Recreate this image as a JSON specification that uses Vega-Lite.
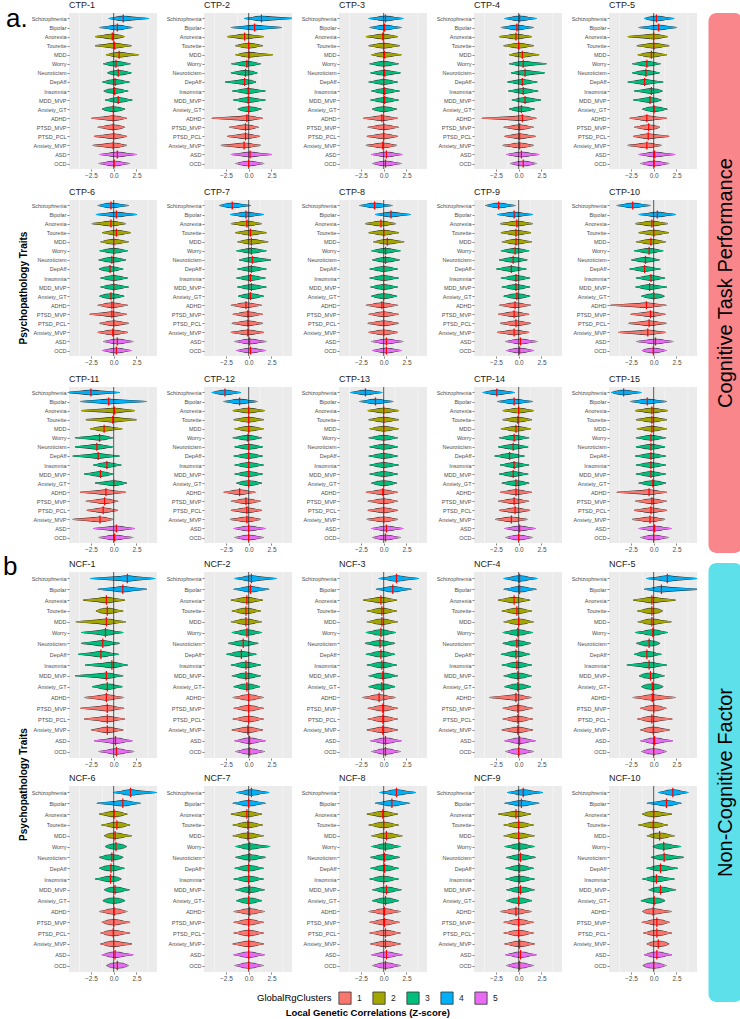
{
"$schema": "https://vega.github.io/schema/vega-lite/v6.json",
"background": "white",
"padding": {"left": 3, "top": 0, "right": 0, "bottom": 0},
"datasets": {
"cl": [
{"t":"Schizophrenia","c":"4"},{"t":"Bipolar","c":"4"},{"t":"Anorexia","c":"2"},{"t":"Tourette","c":"2"},{"t":"MDD","c":"2"},{"t":"Worry","c":"3"},{"t":"Neuroticism","c":"3"},{"t":"DepAff","c":"3"},{"t":"Insomnia","c":"3"},{"t":"MDD_MVP","c":"3"},{"t":"Anxiety_GT","c":"3"},{"t":"ADHD","c":"1"},{"t":"PTSD_MVP","c":"1"},{"t":"PTSD_PCL","c":"1"},{"t":"Anxiety_MVP","c":"1"},{"t":"ASD","c":"5"},{"t":"OCD","c":"5"}
],
"ctp": [
{"p":"CTP-1","t":"Schizophrenia","m":1.05,"lo":-0.5,"hi":3.8},
{"p":"CTP-1","t":"Bipolar","m":0.4,"lo":-1.5,"hi":2.0},
{"p":"CTP-1","t":"Anorexia","m":-0.15,"lo":-2.0,"hi":1.15},
{"p":"CTP-1","t":"Tourette","m":0.1,"lo":-2.0,"hi":1.9},
{"p":"CTP-1","t":"MDD","m":0.6,"lo":-0.8,"hi":2.7},
{"p":"CTP-1","t":"Worry","m":0.25,"lo":-1.1,"hi":1.8},
{"p":"CTP-1","t":"Neuroticism","m":0.5,"lo":-0.5,"hi":1.9},
{"p":"CTP-1","t":"DepAff","m":0.15,"lo":-1.2,"hi":1.7},
{"p":"CTP-1","t":"Insomnia","m":0.1,"lo":-0.9,"hi":1.55},
{"p":"CTP-1","t":"MDD_MVP","m":0.5,"lo":-0.9,"hi":2.0},
{"p":"CTP-1","t":"Anxiety_GT","m":-0.05,"lo":-1.2,"hi":1.2},
{"p":"CTP-1","t":"ADHD","m":-0.05,"lo":-2.4,"hi":1.4},
{"p":"CTP-1","t":"PTSD_MVP","m":-0.05,"lo":-1.7,"hi":1.2},
{"p":"CTP-1","t":"PTSD_PCL","m":0.0,"lo":-2.1,"hi":1.4},
{"p":"CTP-1","t":"Anxiety_MVP","m":-0.05,"lo":-2.25,"hi":1.4},
{"p":"CTP-1","t":"ASD","m":0.4,"lo":-1.5,"hi":2.45},
{"p":"CTP-1","t":"OCD","m":0.05,"lo":-1.6,"hi":1.7},
{"p":"CTP-2","t":"Schizophrenia","m":1.4,"lo":-0.45,"hi":4.9},
{"p":"CTP-2","t":"Bipolar","m":0.65,"lo":-1.9,"hi":3.6},
{"p":"CTP-2","t":"Anorexia","m":-0.45,"lo":-2.3,"hi":1.6},
{"p":"CTP-2","t":"Tourette","m":0.0,"lo":-1.4,"hi":1.5},
{"p":"CTP-2","t":"MDD","m":0.05,"lo":-1.4,"hi":2.6},
{"p":"CTP-2","t":"Worry","m":-0.2,"lo":-1.85,"hi":1.3},
{"p":"CTP-2","t":"Neuroticism","m":-0.35,"lo":-1.9,"hi":0.9},
{"p":"CTP-2","t":"DepAff","m":-0.45,"lo":-2.55,"hi":0.75},
{"p":"CTP-2","t":"Insomnia","m":-0.05,"lo":-1.75,"hi":1.8},
{"p":"CTP-2","t":"MDD_MVP","m":-0.05,"lo":-1.65,"hi":1.8},
{"p":"CTP-2","t":"Anxiety_GT","m":0.0,"lo":-1.1,"hi":1.35},
{"p":"CTP-2","t":"ADHD","m":-0.2,"lo":-4.0,"hi":1.5},
{"p":"CTP-2","t":"PTSD_MVP","m":-0.35,"lo":-2.1,"hi":1.05},
{"p":"CTP-2","t":"PTSD_PCL","m":-0.35,"lo":-2.3,"hi":1.2},
{"p":"CTP-2","t":"Anxiety_MVP","m":-0.5,"lo":-3.0,"hi":1.3},
{"p":"CTP-2","t":"ASD","m":0.15,"lo":-1.9,"hi":2.5},
{"p":"CTP-2","t":"OCD","m":0.0,"lo":-1.4,"hi":1.65},
{"p":"CTP-3","t":"Schizophrenia","m":0.2,"lo":-1.6,"hi":2.1},
{"p":"CTP-3","t":"Bipolar","m":0.1,"lo":-1.5,"hi":1.9},
{"p":"CTP-3","t":"Anorexia","m":-0.1,"lo":-1.9,"hi":1.5},
{"p":"CTP-3","t":"Tourette","m":0.0,"lo":-1.6,"hi":1.7},
{"p":"CTP-3","t":"MDD","m":0.1,"lo":-1.3,"hi":1.9},
{"p":"CTP-3","t":"Worry","m":0.0,"lo":-1.5,"hi":1.6},
{"p":"CTP-3","t":"Neuroticism","m":0.1,"lo":-1.4,"hi":1.8},
{"p":"CTP-3","t":"DepAff","m":0.0,"lo":-1.6,"hi":1.5},
{"p":"CTP-3","t":"Insomnia","m":0.1,"lo":-1.3,"hi":1.7},
{"p":"CTP-3","t":"MDD_MVP","m":0.1,"lo":-1.4,"hi":1.6},
{"p":"CTP-3","t":"Anxiety_GT","m":0.0,"lo":-1.2,"hi":1.4},
{"p":"CTP-3","t":"ADHD","m":-0.2,"lo":-2.2,"hi":1.5},
{"p":"CTP-3","t":"PTSD_MVP","m":0.0,"lo":-1.7,"hi":1.6},
{"p":"CTP-3","t":"PTSD_PCL","m":0.0,"lo":-1.8,"hi":1.5},
{"p":"CTP-3","t":"Anxiety_MVP","m":-0.1,"lo":-1.9,"hi":1.4},
{"p":"CTP-3","t":"ASD","m":0.3,"lo":-1.3,"hi":2.0},
{"p":"CTP-3","t":"OCD","m":0.2,"lo":-1.2,"hi":1.9},
{"p":"CTP-4","t":"Schizophrenia","m":0.1,"lo":-1.5,"hi":1.9},
{"p":"CTP-4","t":"Bipolar","m":-0.2,"lo":-1.9,"hi":1.6},
{"p":"CTP-4","t":"Anorexia","m":-0.3,"lo":-2.1,"hi":1.4},
{"p":"CTP-4","t":"Tourette","m":0.0,"lo":-1.6,"hi":1.6},
{"p":"CTP-4","t":"MDD","m":0.4,"lo":-1.0,"hi":2.2},
{"p":"CTP-4","t":"Worry","m":0.5,"lo":-1.0,"hi":3.0},
{"p":"CTP-4","t":"Neuroticism","m":0.7,"lo":-0.8,"hi":2.8},
{"p":"CTP-4","t":"DepAff","m":0.4,"lo":-1.2,"hi":2.0},
{"p":"CTP-4","t":"Insomnia","m":0.5,"lo":-1.1,"hi":2.1},
{"p":"CTP-4","t":"MDD_MVP","m":0.7,"lo":-0.7,"hi":2.4},
{"p":"CTP-4","t":"Anxiety_GT","m":0.3,"lo":-1.0,"hi":1.7},
{"p":"CTP-4","t":"ADHD","m":0.4,"lo":-4.0,"hi":1.9},
{"p":"CTP-4","t":"PTSD_MVP","m":0.1,"lo":-1.6,"hi":1.6},
{"p":"CTP-4","t":"PTSD_PCL","m":0.1,"lo":-1.5,"hi":1.8},
{"p":"CTP-4","t":"Anxiety_MVP","m":0.1,"lo":-1.7,"hi":1.6},
{"p":"CTP-4","t":"ASD","m":0.3,"lo":-1.3,"hi":2.2},
{"p":"CTP-4","t":"OCD","m":0.5,"lo":-0.9,"hi":1.9},
{"p":"CTP-5","t":"Schizophrenia","m":0.3,"lo":-1.0,"hi":2.2},
{"p":"CTP-5","t":"Bipolar","m":0.55,"lo":-1.6,"hi":2.5},
{"p":"CTP-5","t":"Anorexia","m":0.0,"lo":-2.8,"hi":1.5},
{"p":"CTP-5","t":"Tourette","m":0.0,"lo":-1.8,"hi":1.65},
{"p":"CTP-5","t":"MDD","m":-0.25,"lo":-1.7,"hi":1.4},
{"p":"CTP-5","t":"Worry","m":-0.75,"lo":-2.3,"hi":0.7},
{"p":"CTP-5","t":"Neuroticism","m":-0.85,"lo":-2.3,"hi":0.6},
{"p":"CTP-5","t":"DepAff","m":-1.0,"lo":-2.8,"hi":1.0},
{"p":"CTP-5","t":"Insomnia","m":-0.25,"lo":-2.1,"hi":0.9},
{"p":"CTP-5","t":"MDD_MVP","m":-0.4,"lo":-2.2,"hi":0.8},
{"p":"CTP-5","t":"Anxiety_GT","m":0.05,"lo":-1.2,"hi":1.45},
{"p":"CTP-5","t":"ADHD","m":-0.75,"lo":-2.6,"hi":1.4},
{"p":"CTP-5","t":"PTSD_MVP","m":-0.55,"lo":-2.1,"hi":0.6},
{"p":"CTP-5","t":"PTSD_PCL","m":-0.6,"lo":-2.2,"hi":1.65},
{"p":"CTP-5","t":"Anxiety_MVP","m":-0.75,"lo":-2.8,"hi":0.8},
{"p":"CTP-5","t":"ASD","m":0.1,"lo":-1.6,"hi":2.3},
{"p":"CTP-5","t":"OCD","m":0.05,"lo":-1.4,"hi":1.65},
{"p":"CTP-6","t":"Schizophrenia","m":-0.3,"lo":-1.7,"hi":1.6},
{"p":"CTP-6","t":"Bipolar","m":0.3,"lo":-1.9,"hi":2.5},
{"p":"CTP-6","t":"Anorexia","m":-0.3,"lo":-2.35,"hi":1.3},
{"p":"CTP-6","t":"Tourette","m":0.3,"lo":-1.2,"hi":1.8},
{"p":"CTP-6","t":"MDD","m":0.0,"lo":-1.4,"hi":1.6},
{"p":"CTP-6","t":"Worry","m":0.0,"lo":-1.5,"hi":1.5},
{"p":"CTP-6","t":"Neuroticism","m":-0.2,"lo":-1.6,"hi":1.3},
{"p":"CTP-6","t":"DepAff","m":-0.4,"lo":-1.5,"hi":1.0},
{"p":"CTP-6","t":"Insomnia","m":0.0,"lo":-1.4,"hi":1.5},
{"p":"CTP-6","t":"MDD_MVP","m":0.0,"lo":-1.4,"hi":1.6},
{"p":"CTP-6","t":"Anxiety_GT","m":-0.3,"lo":-1.5,"hi":1.1},
{"p":"CTP-6","t":"ADHD","m":-0.2,"lo":-1.7,"hi":1.5},
{"p":"CTP-6","t":"PTSD_MVP","m":-0.2,"lo":-2.6,"hi":1.4},
{"p":"CTP-6","t":"PTSD_PCL","m":0.0,"lo":-1.5,"hi":1.6},
{"p":"CTP-6","t":"Anxiety_MVP","m":-0.1,"lo":-1.7,"hi":1.5},
{"p":"CTP-6","t":"ASD","m":0.4,"lo":-1.1,"hi":2.1},
{"p":"CTP-6","t":"OCD","m":0.3,"lo":-1.2,"hi":1.9},
{"p":"CTP-7","t":"Schizophrenia","m":-1.8,"lo":-3.2,"hi":0.2},
{"p":"CTP-7","t":"Bipolar","m":-0.3,"lo":-2.0,"hi":1.6},
{"p":"CTP-7","t":"Anorexia","m":-0.2,"lo":-1.9,"hi":1.4},
{"p":"CTP-7","t":"Tourette","m":0.2,"lo":-1.4,"hi":1.9},
{"p":"CTP-7","t":"MDD","m":0.3,"lo":-1.2,"hi":2.1},
{"p":"CTP-7","t":"Worry","m":0.3,"lo":-1.3,"hi":1.9},
{"p":"CTP-7","t":"Neuroticism","m":0.4,"lo":-1.0,"hi":2.4},
{"p":"CTP-7","t":"DepAff","m":0.3,"lo":-1.2,"hi":1.9},
{"p":"CTP-7","t":"Insomnia","m":0.2,"lo":-1.3,"hi":1.8},
{"p":"CTP-7","t":"MDD_MVP","m":0.3,"lo":-1.2,"hi":1.9},
{"p":"CTP-7","t":"Anxiety_GT","m":0.2,"lo":-1.1,"hi":1.6},
{"p":"CTP-7","t":"ADHD","m":-0.3,"lo":-1.9,"hi":1.4},
{"p":"CTP-7","t":"PTSD_MVP","m":-0.1,"lo":-1.7,"hi":1.5},
{"p":"CTP-7","t":"PTSD_PCL","m":-0.1,"lo":-1.8,"hi":1.5},
{"p":"CTP-7","t":"Anxiety_MVP","m":-0.1,"lo":-1.9,"hi":1.6},
{"p":"CTP-7","t":"ASD","m":0.1,"lo":-1.5,"hi":1.9},
{"p":"CTP-7","t":"OCD","m":0.2,"lo":-1.3,"hi":1.8},
{"p":"CTP-8","t":"Schizophrenia","m":-1.0,"lo":-2.6,"hi":0.9},
{"p":"CTP-8","t":"Bipolar","m":0.8,"lo":-0.9,"hi":2.9},
{"p":"CTP-8","t":"Anorexia","m":-0.3,"lo":-2.0,"hi":1.3},
{"p":"CTP-8","t":"Tourette","m":0.0,"lo":-1.6,"hi":1.6},
{"p":"CTP-8","t":"MDD","m":0.4,"lo":-1.1,"hi":2.2},
{"p":"CTP-8","t":"Worry","m":0.2,"lo":-1.3,"hi":1.8},
{"p":"CTP-8","t":"Neuroticism","m":0.2,"lo":-1.2,"hi":1.7},
{"p":"CTP-8","t":"DepAff","m":0.0,"lo":-1.5,"hi":1.5},
{"p":"CTP-8","t":"Insomnia","m":0.0,"lo":-1.5,"hi":1.6},
{"p":"CTP-8","t":"MDD_MVP","m":0.0,"lo":-1.4,"hi":1.5},
{"p":"CTP-8","t":"Anxiety_GT","m":0.0,"lo":-1.3,"hi":1.4},
{"p":"CTP-8","t":"ADHD","m":-0.2,"lo":-1.9,"hi":1.5},
{"p":"CTP-8","t":"PTSD_MVP","m":0.0,"lo":-1.6,"hi":1.6},
{"p":"CTP-8","t":"PTSD_PCL","m":0.0,"lo":-1.7,"hi":1.6},
{"p":"CTP-8","t":"Anxiety_MVP","m":0.0,"lo":-1.6,"hi":1.5},
{"p":"CTP-8","t":"ASD","m":0.3,"lo":-1.3,"hi":2.1},
{"p":"CTP-8","t":"OCD","m":0.3,"lo":-1.2,"hi":1.9},
{"p":"CTP-9","t":"Schizophrenia","m":-2.2,"lo":-3.6,"hi":-0.4},
{"p":"CTP-9","t":"Bipolar","m":-0.5,"lo":-2.3,"hi":1.5},
{"p":"CTP-9","t":"Anorexia","m":-0.2,"lo":-2.0,"hi":1.5},
{"p":"CTP-9","t":"Tourette","m":-0.3,"lo":-1.9,"hi":1.3},
{"p":"CTP-9","t":"MDD","m":-0.3,"lo":-1.8,"hi":1.4},
{"p":"CTP-9","t":"Worry","m":-0.4,"lo":-1.9,"hi":1.1},
{"p":"CTP-9","t":"Neuroticism","m":-0.6,"lo":-2.1,"hi":0.9},
{"p":"CTP-9","t":"DepAff","m":-0.8,"lo":-2.4,"hi":0.8},
{"p":"CTP-9","t":"Insomnia","m":-0.3,"lo":-1.9,"hi":1.2},
{"p":"CTP-9","t":"MDD_MVP","m":-0.3,"lo":-1.8,"hi":1.2},
{"p":"CTP-9","t":"Anxiety_GT","m":-0.2,"lo":-1.6,"hi":1.2},
{"p":"CTP-9","t":"ADHD","m":-0.4,"lo":-2.1,"hi":1.3},
{"p":"CTP-9","t":"PTSD_MVP","m":-0.5,"lo":-2.2,"hi":1.1},
{"p":"CTP-9","t":"PTSD_PCL","m":-0.3,"lo":-2.0,"hi":1.3},
{"p":"CTP-9","t":"Anxiety_MVP","m":-0.5,"lo":-2.3,"hi":1.1},
{"p":"CTP-9","t":"ASD","m":0.2,"lo":-1.4,"hi":2.0},
{"p":"CTP-9","t":"OCD","m":0.1,"lo":-1.3,"hi":1.6},
{"p":"CTP-10","t":"Schizophrenia","m":-2.3,"lo":-4.0,"hi":-0.4},
{"p":"CTP-10","t":"Bipolar","m":0.4,"lo":-1.6,"hi":2.4},
{"p":"CTP-10","t":"Anorexia","m":-0.2,"lo":-2.0,"hi":1.5},
{"p":"CTP-10","t":"Tourette","m":0.0,"lo":-1.6,"hi":1.6},
{"p":"CTP-10","t":"MDD","m":-0.3,"lo":-1.9,"hi":1.3},
{"p":"CTP-10","t":"Worry","m":-0.5,"lo":-2.1,"hi":1.0},
{"p":"CTP-10","t":"Neuroticism","m":-0.9,"lo":-2.4,"hi":0.6},
{"p":"CTP-10","t":"DepAff","m":-1.0,"lo":-2.6,"hi":0.7},
{"p":"CTP-10","t":"Insomnia","m":-0.3,"lo":-1.9,"hi":1.2},
{"p":"CTP-10","t":"MDD_MVP","m":-0.45,"lo":-1.95,"hi":1.4},
{"p":"CTP-10","t":"Anxiety_GT","m":0.0,"lo":-1.3,"hi":0.85},
{"p":"CTP-10","t":"ADHD","m":-0.8,"lo":-4.7,"hi":1.35},
{"p":"CTP-10","t":"PTSD_MVP","m":-0.35,"lo":-2.5,"hi":1.25},
{"p":"CTP-10","t":"PTSD_PCL","m":-0.5,"lo":-2.7,"hi":1.35},
{"p":"CTP-10","t":"Anxiety_MVP","m":-0.65,"lo":-3.8,"hi":1.25},
{"p":"CTP-10","t":"ASD","m":0.2,"lo":-1.85,"hi":2.1},
{"p":"CTP-10","t":"OCD","m":-0.05,"lo":-1.25,"hi":1.35},
{"p":"CTP-11","t":"Schizophrenia","m":-2.5,"lo":-5.2,"hi":0.6},
{"p":"CTP-11","t":"Bipolar","m":-0.55,"lo":-3.65,"hi":3.55},
{"p":"CTP-11","t":"Anorexia","m":0.1,"lo":-3.5,"hi":2.25},
{"p":"CTP-11","t":"Tourette","m":-0.1,"lo":-3.0,"hi":2.45},
{"p":"CTP-11","t":"MDD","m":-1.05,"lo":-2.55,"hi":0.9},
{"p":"CTP-11","t":"Worry","m":-1.55,"lo":-4.2,"hi":-0.1},
{"p":"CTP-11","t":"Neuroticism","m":-1.85,"lo":-4.2,"hi":-0.15},
{"p":"CTP-11","t":"DepAff","m":-1.7,"lo":-4.45,"hi":0.6},
{"p":"CTP-11","t":"Insomnia","m":-0.75,"lo":-2.2,"hi":0.8},
{"p":"CTP-11","t":"MDD_MVP","m":-1.45,"lo":-3.2,"hi":-0.1},
{"p":"CTP-11","t":"Anxiety_GT","m":0.0,"lo":-2.0,"hi":1.4},
{"p":"CTP-11","t":"ADHD","m":-0.85,"lo":-3.65,"hi":1.3},
{"p":"CTP-11","t":"PTSD_MVP","m":-1.0,"lo":-3.0,"hi":0.45},
{"p":"CTP-11","t":"PTSD_PCL","m":-1.15,"lo":-2.9,"hi":0.4},
{"p":"CTP-11","t":"Anxiety_MVP","m":-1.5,"lo":-4.45,"hi":-0.1},
{"p":"CTP-11","t":"ASD","m":0.3,"lo":-2.2,"hi":2.25},
{"p":"CTP-11","t":"OCD","m":0.1,"lo":-1.6,"hi":2.1},
{"p":"CTP-12","t":"Schizophrenia","m":-2.6,"lo":-4.0,"hi":-0.9},
{"p":"CTP-12","t":"Bipolar","m":-1.0,"lo":-2.7,"hi":0.9},
{"p":"CTP-12","t":"Anorexia","m":0.0,"lo":-1.7,"hi":1.7},
{"p":"CTP-12","t":"Tourette","m":0.0,"lo":-1.6,"hi":1.6},
{"p":"CTP-12","t":"MDD","m":0.0,"lo":-1.5,"hi":1.6},
{"p":"CTP-12","t":"Worry","m":-0.1,"lo":-1.7,"hi":1.4},
{"p":"CTP-12","t":"Neuroticism","m":0.0,"lo":-1.5,"hi":1.5},
{"p":"CTP-12","t":"DepAff","m":0.0,"lo":-1.6,"hi":1.5},
{"p":"CTP-12","t":"Insomnia","m":0.0,"lo":-1.5,"hi":1.6},
{"p":"CTP-12","t":"MDD_MVP","m":0.0,"lo":-1.5,"hi":1.5},
{"p":"CTP-12","t":"Anxiety_GT","m":0.0,"lo":-1.3,"hi":1.4},
{"p":"CTP-12","t":"ADHD","m":-1.0,"lo":-2.7,"hi":0.7},
{"p":"CTP-12","t":"PTSD_MVP","m":-0.3,"lo":-1.9,"hi":1.3},
{"p":"CTP-12","t":"PTSD_PCL","m":-0.2,"lo":-1.9,"hi":1.4},
{"p":"CTP-12","t":"Anxiety_MVP","m":-0.2,"lo":-2.0,"hi":1.3},
{"p":"CTP-12","t":"ASD","m":0.0,"lo":-1.6,"hi":1.8},
{"p":"CTP-12","t":"OCD","m":0.0,"lo":-1.5,"hi":1.6},
{"p":"CTP-13","t":"Schizophrenia","m":-2.0,"lo":-3.6,"hi":-0.2},
{"p":"CTP-13","t":"Bipolar","m":-0.9,"lo":-2.6,"hi":1.0},
{"p":"CTP-13","t":"Anorexia","m":0.0,"lo":-1.7,"hi":1.6},
{"p":"CTP-13","t":"Tourette","m":0.0,"lo":-1.6,"hi":1.6},
{"p":"CTP-13","t":"MDD","m":0.0,"lo":-1.5,"hi":1.6},
{"p":"CTP-13","t":"Worry","m":0.0,"lo":-1.6,"hi":1.5},
{"p":"CTP-13","t":"Neuroticism","m":0.0,"lo":-1.5,"hi":1.5},
{"p":"CTP-13","t":"DepAff","m":0.0,"lo":-1.6,"hi":1.5},
{"p":"CTP-13","t":"Insomnia","m":0.0,"lo":-1.5,"hi":1.6},
{"p":"CTP-13","t":"MDD_MVP","m":0.0,"lo":-1.5,"hi":1.5},
{"p":"CTP-13","t":"Anxiety_GT","m":0.0,"lo":-1.3,"hi":1.4},
{"p":"CTP-13","t":"ADHD","m":-0.1,"lo":-1.9,"hi":1.5},
{"p":"CTP-13","t":"PTSD_MVP","m":0.0,"lo":-1.7,"hi":1.5},
{"p":"CTP-13","t":"PTSD_PCL","m":0.0,"lo":-1.7,"hi":1.5},
{"p":"CTP-13","t":"Anxiety_MVP","m":0.0,"lo":-1.8,"hi":1.5},
{"p":"CTP-13","t":"ASD","m":0.3,"lo":-1.3,"hi":2.1},
{"p":"CTP-13","t":"OCD","m":0.2,"lo":-1.2,"hi":1.8},
{"p":"CTP-14","t":"Schizophrenia","m":-2.4,"lo":-3.9,"hi":-0.5},
{"p":"CTP-14","t":"Bipolar","m":-0.5,"lo":-2.3,"hi":1.5},
{"p":"CTP-14","t":"Anorexia","m":0.0,"lo":-1.7,"hi":1.6},
{"p":"CTP-14","t":"Tourette","m":-0.1,"lo":-1.7,"hi":1.4},
{"p":"CTP-14","t":"MDD","m":-0.3,"lo":-1.9,"hi":1.3},
{"p":"CTP-14","t":"Worry","m":-0.5,"lo":-2.1,"hi":1.1},
{"p":"CTP-14","t":"Neuroticism","m":-0.6,"lo":-2.2,"hi":1.0},
{"p":"CTP-14","t":"DepAff","m":-1.0,"lo":-2.6,"hi":0.6},
{"p":"CTP-14","t":"Insomnia","m":-0.5,"lo":-2.0,"hi":1.1},
{"p":"CTP-14","t":"MDD_MVP","m":-0.6,"lo":-2.1,"hi":1.0},
{"p":"CTP-14","t":"Anxiety_GT","m":-0.3,"lo":-1.8,"hi":1.1},
{"p":"CTP-14","t":"ADHD","m":-0.3,"lo":-2.0,"hi":1.4},
{"p":"CTP-14","t":"PTSD_MVP","m":-0.5,"lo":-2.2,"hi":1.1},
{"p":"CTP-14","t":"PTSD_PCL","m":-0.4,"lo":-2.1,"hi":1.2},
{"p":"CTP-14","t":"Anxiety_MVP","m":-0.8,"lo":-2.5,"hi":0.9},
{"p":"CTP-14","t":"ASD","m":0.1,"lo":-1.5,"hi":1.8},
{"p":"CTP-14","t":"OCD","m":0.0,"lo":-1.4,"hi":1.5},
{"p":"CTP-15","t":"Schizophrenia","m":-3.3,"lo":-4.6,"hi":-1.4},
{"p":"CTP-15","t":"Bipolar","m":-0.7,"lo":-2.5,"hi":1.4},
{"p":"CTP-15","t":"Anorexia","m":-0.2,"lo":-2.0,"hi":1.5},
{"p":"CTP-15","t":"Tourette","m":-0.2,"lo":-1.9,"hi":1.4},
{"p":"CTP-15","t":"MDD","m":-0.2,"lo":-1.8,"hi":1.4},
{"p":"CTP-15","t":"Worry","m":-0.3,"lo":-1.9,"hi":1.3},
{"p":"CTP-15","t":"Neuroticism","m":-0.3,"lo":-1.9,"hi":1.2},
{"p":"CTP-15","t":"DepAff","m":-0.3,"lo":-2.0,"hi":1.3},
{"p":"CTP-15","t":"Insomnia","m":-0.3,"lo":-1.9,"hi":1.3},
{"p":"CTP-15","t":"MDD_MVP","m":-0.3,"lo":-1.9,"hi":1.3},
{"p":"CTP-15","t":"Anxiety_GT","m":-0.1,"lo":-1.6,"hi":1.3},
{"p":"CTP-15","t":"ADHD","m":-0.5,"lo":-4.0,"hi":1.4},
{"p":"CTP-15","t":"PTSD_MVP","m":-0.2,"lo":-2.0,"hi":1.4},
{"p":"CTP-15","t":"PTSD_PCL","m":-0.3,"lo":-2.1,"hi":1.4},
{"p":"CTP-15","t":"Anxiety_MVP","m":-0.4,"lo":-2.3,"hi":1.2},
{"p":"CTP-15","t":"ASD","m":0.1,"lo":-1.6,"hi":1.9},
{"p":"CTP-15","t":"OCD","m":0.0,"lo":-1.4,"hi":1.6}
],
"ncf": [
{"p":"NCF-1","t":"Schizophrenia","m":1.5,"lo":-2.5,"hi":4.5},
{"p":"NCF-1","t":"Bipolar","m":1.0,"lo":-1.7,"hi":3.6},
{"p":"NCF-1","t":"Anorexia","m":-0.8,"lo":-3.3,"hi":1.2},
{"p":"NCF-1","t":"Tourette","m":-0.7,"lo":-1.9,"hi":1.0},
{"p":"NCF-1","t":"MDD","m":-0.8,"lo":-4.1,"hi":1.3},
{"p":"NCF-1","t":"Worry","m":-0.9,"lo":-3.5,"hi":1.0},
{"p":"NCF-1","t":"Neuroticism","m":-1.2,"lo":-3.5,"hi":0.6},
{"p":"NCF-1","t":"DepAff","m":-1.4,"lo":-3.85,"hi":0.5},
{"p":"NCF-1","t":"Insomnia","m":-0.2,"lo":-3.1,"hi":1.5},
{"p":"NCF-1","t":"MDD_MVP","m":-0.8,"lo":-4.2,"hi":1.0},
{"p":"NCF-1","t":"Anxiety_GT","m":-0.7,"lo":-2.3,"hi":0.9},
{"p":"NCF-1","t":"ADHD","m":-0.8,"lo":-3.2,"hi":1.1},
{"p":"NCF-1","t":"PTSD_MVP","m":-0.7,"lo":-3.6,"hi":1.1},
{"p":"NCF-1","t":"PTSD_PCL","m":-0.7,"lo":-3.2,"hi":1.2},
{"p":"NCF-1","t":"Anxiety_MVP","m":-0.7,"lo":-2.4,"hi":1.0},
{"p":"NCF-1","t":"ASD","m":0.2,"lo":-2.1,"hi":2.0},
{"p":"NCF-1","t":"OCD","m":0.3,"lo":-1.6,"hi":2.2},
{"p":"NCF-2","t":"Schizophrenia","m":0.3,"lo":-1.5,"hi":3.0},
{"p":"NCF-2","t":"Bipolar","m":0.2,"lo":-1.6,"hi":2.2},
{"p":"NCF-2","t":"Anorexia","m":-0.2,"lo":-1.9,"hi":1.5},
{"p":"NCF-2","t":"Tourette","m":-0.3,"lo":-1.8,"hi":1.3},
{"p":"NCF-2","t":"MDD","m":-0.3,"lo":-1.9,"hi":1.4},
{"p":"NCF-2","t":"Worry","m":-0.2,"lo":-1.8,"hi":1.4},
{"p":"NCF-2","t":"Neuroticism","m":-0.6,"lo":-2.2,"hi":1.0},
{"p":"NCF-2","t":"DepAff","m":-0.8,"lo":-2.4,"hi":0.8},
{"p":"NCF-2","t":"Insomnia","m":-0.3,"lo":-1.9,"hi":1.3},
{"p":"NCF-2","t":"MDD_MVP","m":-0.3,"lo":-1.8,"hi":1.3},
{"p":"NCF-2","t":"Anxiety_GT","m":-0.2,"lo":-1.6,"hi":1.2},
{"p":"NCF-2","t":"ADHD","m":0.0,"lo":-1.7,"hi":1.6},
{"p":"NCF-2","t":"PTSD_MVP","m":0.0,"lo":-1.6,"hi":1.6},
{"p":"NCF-2","t":"PTSD_PCL","m":0.0,"lo":-1.7,"hi":1.6},
{"p":"NCF-2","t":"Anxiety_MVP","m":-0.1,"lo":-1.8,"hi":1.5},
{"p":"NCF-2","t":"ASD","m":0.1,"lo":-1.5,"hi":1.8},
{"p":"NCF-2","t":"OCD","m":0.1,"lo":-1.4,"hi":1.7},
{"p":"NCF-3","t":"Schizophrenia","m":1.4,"lo":-0.5,"hi":3.8},
{"p":"NCF-3","t":"Bipolar","m":1.0,"lo":-0.8,"hi":3.0},
{"p":"NCF-3","t":"Anorexia","m":-0.3,"lo":-2.2,"hi":1.4},
{"p":"NCF-3","t":"Tourette","m":-0.2,"lo":-1.8,"hi":1.4},
{"p":"NCF-3","t":"MDD","m":-0.2,"lo":-1.8,"hi":1.5},
{"p":"NCF-3","t":"Worry","m":-0.3,"lo":-1.9,"hi":1.3},
{"p":"NCF-3","t":"Neuroticism","m":-0.4,"lo":-2.0,"hi":1.2},
{"p":"NCF-3","t":"DepAff","m":-0.3,"lo":-1.9,"hi":1.2},
{"p":"NCF-3","t":"Insomnia","m":-0.2,"lo":-1.8,"hi":1.4},
{"p":"NCF-3","t":"MDD_MVP","m":-0.1,"lo":-1.6,"hi":1.5},
{"p":"NCF-3","t":"Anxiety_GT","m":-0.2,"lo":-1.6,"hi":1.2},
{"p":"NCF-3","t":"ADHD","m":-0.5,"lo":-2.3,"hi":1.3},
{"p":"NCF-3","t":"PTSD_MVP","m":-0.1,"lo":-1.7,"hi":1.5},
{"p":"NCF-3","t":"PTSD_PCL","m":-0.1,"lo":-1.7,"hi":1.5},
{"p":"NCF-3","t":"Anxiety_MVP","m":-0.1,"lo":-1.8,"hi":1.5},
{"p":"NCF-3","t":"ASD","m":0.2,"lo":-1.4,"hi":1.9},
{"p":"NCF-3","t":"OCD","m":0.2,"lo":-1.3,"hi":1.8},
{"p":"NCF-4","t":"Schizophrenia","m":0.1,"lo":-1.6,"hi":2.0},
{"p":"NCF-4","t":"Bipolar","m":0.1,"lo":-1.6,"hi":1.9},
{"p":"NCF-4","t":"Anorexia","m":-0.5,"lo":-2.2,"hi":1.2},
{"p":"NCF-4","t":"Tourette","m":-0.2,"lo":-1.8,"hi":1.4},
{"p":"NCF-4","t":"MDD","m":0.0,"lo":-1.6,"hi":1.6},
{"p":"NCF-4","t":"Worry","m":-0.1,"lo":-1.7,"hi":1.5},
{"p":"NCF-4","t":"Neuroticism","m":-0.2,"lo":-1.7,"hi":1.3},
{"p":"NCF-4","t":"DepAff","m":-0.3,"lo":-1.9,"hi":1.2},
{"p":"NCF-4","t":"Insomnia","m":-0.2,"lo":-1.8,"hi":1.4},
{"p":"NCF-4","t":"MDD_MVP","m":-0.1,"lo":-1.6,"hi":1.4},
{"p":"NCF-4","t":"Anxiety_GT","m":-0.1,"lo":-1.5,"hi":1.3},
{"p":"NCF-4","t":"ADHD","m":-0.3,"lo":-3.2,"hi":1.4},
{"p":"NCF-4","t":"PTSD_MVP","m":-0.1,"lo":-1.7,"hi":1.5},
{"p":"NCF-4","t":"PTSD_PCL","m":-0.1,"lo":-1.7,"hi":1.5},
{"p":"NCF-4","t":"Anxiety_MVP","m":-0.1,"lo":-1.8,"hi":1.5},
{"p":"NCF-4","t":"ASD","m":0.1,"lo":-1.5,"hi":1.8},
{"p":"NCF-4","t":"OCD","m":0.0,"lo":-1.4,"hi":1.6},
{"p":"NCF-5","t":"Schizophrenia","m":1.5,"lo":-0.75,"hi":4.8},
{"p":"NCF-5","t":"Bipolar","m":0.85,"lo":-1.0,"hi":4.8},
{"p":"NCF-5","t":"Anorexia","m":-0.2,"lo":-2.2,"hi":2.35},
{"p":"NCF-5","t":"Tourette","m":-0.2,"lo":-1.75,"hi":0.85},
{"p":"NCF-5","t":"MDD","m":-0.2,"lo":-1.7,"hi":1.9},
{"p":"NCF-5","t":"Worry","m":-0.1,"lo":-2.0,"hi":1.5},
{"p":"NCF-5","t":"Neuroticism","m":-0.5,"lo":-1.85,"hi":0.55},
{"p":"NCF-5","t":"DepAff","m":-0.75,"lo":-2.1,"hi":0.8},
{"p":"NCF-5","t":"Insomnia","m":-0.5,"lo":-2.9,"hi":1.4},
{"p":"NCF-5","t":"MDD_MVP","m":-0.35,"lo":-1.55,"hi":1.15},
{"p":"NCF-5","t":"Anxiety_GT","m":-0.15,"lo":-1.25,"hi":0.6},
{"p":"NCF-5","t":"ADHD","m":-0.15,"lo":-2.25,"hi":2.35},
{"p":"NCF-5","t":"PTSD_MVP","m":0.0,"lo":-1.45,"hi":1.35},
{"p":"NCF-5","t":"PTSD_PCL","m":-0.2,"lo":-1.75,"hi":2.0},
{"p":"NCF-5","t":"Anxiety_MVP","m":-0.05,"lo":-1.4,"hi":1.7},
{"p":"NCF-5","t":"ASD","m":0.1,"lo":-1.4,"hi":2.05},
{"p":"NCF-5","t":"OCD","m":0.0,"lo":-1.3,"hi":1.4},
{"p":"NCF-6","t":"Schizophrenia","m":1.85,"lo":0.0,"hi":4.65},
{"p":"NCF-6","t":"Bipolar","m":1.0,"lo":-1.8,"hi":2.9},
{"p":"NCF-6","t":"Anorexia","m":0.05,"lo":-1.55,"hi":1.45},
{"p":"NCF-6","t":"Tourette","m":0.35,"lo":-1.3,"hi":1.75},
{"p":"NCF-6","t":"MDD","m":0.15,"lo":-0.65,"hi":1.95},
{"p":"NCF-6","t":"Worry","m":0.25,"lo":-0.85,"hi":1.3},
{"p":"NCF-6","t":"Neuroticism","m":-0.2,"lo":-1.55,"hi":1.0},
{"p":"NCF-6","t":"DepAff","m":-0.3,"lo":-1.55,"hi":1.15},
{"p":"NCF-6","t":"Insomnia","m":-0.35,"lo":-2.0,"hi":0.65},
{"p":"NCF-6","t":"MDD_MVP","m":0.15,"lo":-0.85,"hi":1.7},
{"p":"NCF-6","t":"Anxiety_GT","m":0.0,"lo":-1.05,"hi":1.2},
{"p":"NCF-6","t":"ADHD","m":0.05,"lo":-1.55,"hi":1.45},
{"p":"NCF-6","t":"PTSD_MVP","m":0.0,"lo":-1.25,"hi":1.75},
{"p":"NCF-6","t":"PTSD_PCL","m":-0.05,"lo":-1.4,"hi":1.75},
{"p":"NCF-6","t":"Anxiety_MVP","m":0.0,"lo":-1.4,"hi":1.95},
{"p":"NCF-6","t":"ASD","m":0.15,"lo":-1.25,"hi":2.1},
{"p":"NCF-6","t":"OCD","m":0.4,"lo":-0.55,"hi":1.55},
{"p":"NCF-7","t":"Schizophrenia","m":0.3,"lo":-1.3,"hi":2.2},
{"p":"NCF-7","t":"Bipolar","m":0.0,"lo":-1.7,"hi":1.8},
{"p":"NCF-7","t":"Anorexia","m":-0.2,"lo":-1.9,"hi":1.4},
{"p":"NCF-7","t":"Tourette","m":-0.1,"lo":-1.7,"hi":1.5},
{"p":"NCF-7","t":"MDD","m":-0.1,"lo":-1.7,"hi":1.6},
{"p":"NCF-7","t":"Worry","m":0.1,"lo":-1.4,"hi":2.3},
{"p":"NCF-7","t":"Neuroticism","m":0.1,"lo":-1.4,"hi":1.8},
{"p":"NCF-7","t":"DepAff","m":0.0,"lo":-1.5,"hi":1.6},
{"p":"NCF-7","t":"Insomnia","m":0.0,"lo":-1.6,"hi":1.6},
{"p":"NCF-7","t":"MDD_MVP","m":0.1,"lo":-1.4,"hi":1.7},
{"p":"NCF-7","t":"Anxiety_GT","m":0.0,"lo":-1.3,"hi":1.4},
{"p":"NCF-7","t":"ADHD","m":0.1,"lo":-1.6,"hi":1.7},
{"p":"NCF-7","t":"PTSD_MVP","m":0.0,"lo":-1.6,"hi":1.6},
{"p":"NCF-7","t":"PTSD_PCL","m":0.0,"lo":-1.6,"hi":1.6},
{"p":"NCF-7","t":"Anxiety_MVP","m":0.0,"lo":-1.7,"hi":1.6},
{"p":"NCF-7","t":"ASD","m":0.0,"lo":-1.6,"hi":1.7},
{"p":"NCF-7","t":"OCD","m":0.0,"lo":-1.5,"hi":1.6},
{"p":"NCF-8","t":"Schizophrenia","m":1.4,"lo":-0.4,"hi":3.5},
{"p":"NCF-8","t":"Bipolar","m":0.9,"lo":-0.9,"hi":2.8},
{"p":"NCF-8","t":"Anorexia","m":-0.1,"lo":-1.8,"hi":1.5},
{"p":"NCF-8","t":"Tourette","m":0.0,"lo":-1.6,"hi":1.6},
{"p":"NCF-8","t":"MDD","m":0.3,"lo":-1.3,"hi":2.0},
{"p":"NCF-8","t":"Worry","m":0.2,"lo":-1.3,"hi":1.8},
{"p":"NCF-8","t":"Neuroticism","m":0.1,"lo":-1.4,"hi":1.7},
{"p":"NCF-8","t":"DepAff","m":0.1,"lo":-1.4,"hi":1.6},
{"p":"NCF-8","t":"Insomnia","m":0.0,"lo":-1.5,"hi":1.6},
{"p":"NCF-8","t":"MDD_MVP","m":0.3,"lo":-1.2,"hi":1.9},
{"p":"NCF-8","t":"Anxiety_GT","m":0.2,"lo":-1.2,"hi":1.6},
{"p":"NCF-8","t":"ADHD","m":0.1,"lo":-1.6,"hi":1.8},
{"p":"NCF-8","t":"PTSD_MVP","m":0.1,"lo":-1.5,"hi":1.7},
{"p":"NCF-8","t":"PTSD_PCL","m":0.2,"lo":-1.5,"hi":1.8},
{"p":"NCF-8","t":"Anxiety_MVP","m":0.2,"lo":-1.4,"hi":1.8},
{"p":"NCF-8","t":"ASD","m":0.3,"lo":-1.3,"hi":2.0},
{"p":"NCF-8","t":"OCD","m":0.2,"lo":-1.2,"hi":1.8},
{"p":"NCF-9","t":"Schizophrenia","m":0.5,"lo":-1.2,"hi":2.6},
{"p":"NCF-9","t":"Bipolar","m":0.3,"lo":-1.5,"hi":2.2},
{"p":"NCF-9","t":"Anorexia","m":-0.3,"lo":-2.2,"hi":1.3},
{"p":"NCF-9","t":"Tourette","m":0.0,"lo":-1.6,"hi":1.6},
{"p":"NCF-9","t":"MDD","m":0.0,"lo":-1.6,"hi":1.7},
{"p":"NCF-9","t":"Worry","m":0.1,"lo":-1.5,"hi":1.7},
{"p":"NCF-9","t":"Neuroticism","m":0.2,"lo":-1.3,"hi":1.8},
{"p":"NCF-9","t":"DepAff","m":0.1,"lo":-1.4,"hi":1.6},
{"p":"NCF-9","t":"Insomnia","m":0.1,"lo":-1.4,"hi":1.7},
{"p":"NCF-9","t":"MDD_MVP","m":0.2,"lo":-1.3,"hi":1.7},
{"p":"NCF-9","t":"Anxiety_GT","m":0.0,"lo":-1.3,"hi":1.4},
{"p":"NCF-9","t":"ADHD","m":-0.3,"lo":-2.0,"hi":1.4},
{"p":"NCF-9","t":"PTSD_MVP","m":0.0,"lo":-1.6,"hi":1.6},
{"p":"NCF-9","t":"PTSD_PCL","m":0.0,"lo":-1.6,"hi":1.6},
{"p":"NCF-9","t":"Anxiety_MVP","m":0.1,"lo":-1.5,"hi":1.7},
{"p":"NCF-9","t":"ASD","m":0.2,"lo":-1.4,"hi":1.9},
{"p":"NCF-9","t":"OCD","m":0.1,"lo":-1.3,"hi":1.6},
{"p":"NCF-10","t":"Schizophrenia","m":2.1,"lo":0.55,"hi":3.75},
{"p":"NCF-10","t":"Bipolar","m":1.4,"lo":-0.7,"hi":3.0},
{"p":"NCF-10","t":"Anorexia","m":0.0,"lo":-1.2,"hi":1.95},
{"p":"NCF-10","t":"Tourette","m":-0.05,"lo":-1.65,"hi":1.5},
{"p":"NCF-10","t":"MDD","m":0.65,"lo":-0.7,"hi":2.25},
{"p":"NCF-10","t":"Worry","m":1.1,"lo":0.0,"hi":2.95},
{"p":"NCF-10","t":"Neuroticism","m":1.15,"lo":-0.25,"hi":3.25},
{"p":"NCF-10","t":"DepAff","m":0.75,"lo":-0.75,"hi":2.6},
{"p":"NCF-10","t":"Insomnia","m":0.3,"lo":-1.2,"hi":2.25},
{"p":"NCF-10","t":"MDD_MVP","m":0.75,"lo":-0.5,"hi":2.4},
{"p":"NCF-10","t":"Anxiety_GT","m":0.05,"lo":-1.35,"hi":1.15},
{"p":"NCF-10","t":"ADHD","m":-0.05,"lo":-1.1,"hi":1.95},
{"p":"NCF-10","t":"PTSD_MVP","m":0.35,"lo":-1.25,"hi":1.7},
{"p":"NCF-10","t":"PTSD_PCL","m":0.35,"lo":-1.1,"hi":1.95},
{"p":"NCF-10","t":"Anxiety_MVP","m":0.5,"lo":-0.7,"hi":1.6},
{"p":"NCF-10","t":"ASD","m":0.35,"lo":-1.0,"hi":1.95},
{"p":"NCF-10","t":"OCD","m":0.0,"lo":-1.0,"hi":1.35}
]
},
"title": {"text": "Local Genetic Correlations (Z-score)", "orient": "bottom", "anchor": "middle", "fontSize": 9.5, "fontWeight": "bold", "color": "black", "offset": 2, "dx": -5},
"spacing": 11.5,
"hconcat": [
{
"spacing": 1,
"vconcat": [
{
"spacing": 0,
"hconcat": [
{"data": {"values": [{}]}, "width": 24.5, "height": 540,
 "view": {"fill": null, "stroke": null},
 "layer": [
  {"mark": {"type": "text", "text": "a.", "fontSize": 26, "align": "left", "baseline": "top", "dy": -7, "color": "black"},
   "encoding": {"x": {"datum": 0, "type": "quantitative", "scale": {"domain": [0, 1]}, "axis": null},
                "y": {"datum": 1, "type": "quantitative", "scale": {"domain": [0, 1]}, "axis": null}}},
  {"mark": {"type": "text", "text": "Psychopathology Traits", "angle": 270, "fontSize": 10, "fontWeight": "bold", "dy": 6, "dx": -5, "color": "black"}}
 ]},
{
 "data": {"name": "ctp"},
 "transform": [{"lookup": "t", "from": {"data": {"name": "cl"}, "key": "t", "fields": ["c"]}}],
 "facet": {"field": "p", "type": "nominal", "title": null,
  "sort": ["CTP-1","CTP-2","CTP-3","CTP-4","CTP-5","CTP-6","CTP-7","CTP-8","CTP-9","CTP-10","CTP-11","CTP-12","CTP-13","CTP-14","CTP-15"],
  "header": {"labelFontSize": 9, "labelFontWeight": "normal", "labelAnchor": "start", "labelPadding": 3, "labelColor": "#1a1a1a"}},
 "columns": 5,
 "spacing": {"row": 8, "column": 9},
 "resolve": {"axis": {"x": "independent", "y": "independent"}},
 "spec": {
  "width": 88, "height": 156,
  "layer": [
   {"transform": [{"filter": "datum.t === 'Schizophrenia'"}], "mark": {"type": "rule", "color": "white", "strokeWidth": 0.45}, "encoding": {"x": {"datum": -3.75}}},
   {"transform": [{"filter": "datum.t === 'Schizophrenia'"}], "mark": {"type": "rule", "color": "white", "strokeWidth": 0.45}, "encoding": {"x": {"datum": -1.25}}},
   {"transform": [{"filter": "datum.t === 'Schizophrenia'"}], "mark": {"type": "rule", "color": "white", "strokeWidth": 0.45}, "encoding": {"x": {"datum": 1.25}}},
   {"transform": [{"filter": "datum.t === 'Schizophrenia'"}], "mark": {"type": "rule", "color": "white", "strokeWidth": 0.45}, "encoding": {"x": {"datum": 3.75}}},
   {"transform": [{"fold": ["lo","m","hi"], "as": ["k","v"]}],
    "mark": {"type": "trail", "color": "#1a1a1a", "clip": true},
    "encoding": {
     "x": {"field": "v", "type": "quantitative", "scale": {"domain": [-4.9, 4.75], "nice": false, "zero": false},
       "axis": {"title": null, "values": [-2.5, 0, 2.5], "format": ".1f", "labelFontSize": 6.5, "labelPadding": 1, "gridWidth": 0.9}},
     "y": {"field": "t", "type": "nominal", "scale": {"type": "point", "padding": 0.6, "domain": ["Schizophrenia","Bipolar","Anorexia","Tourette","MDD","Worry","Neuroticism","DepAff","Insomnia","MDD_MVP","Anxiety_GT","ADHD","PTSD_MVP","PTSD_PCL","Anxiety_MVP","ASD","OCD"]},
       "axis": {"title": null, "labelFontSize": 5.5, "labelPadding": 1, "labelOverlap": false, "labelBound": false, "gridWidth": 0.9}},
     "detail": {"field": "t"},
     "size": {"condition": {"test": "datum.k === 'm'", "value": 5.5}, "value": 1.1}
    }},
   {"mark": {"type": "point", "shape": "M-1,0C-0.7,-0.17,-0.4,-0.21,0,-0.21C0.4,-0.21,0.7,-0.17,1,0C0.7,0.17,0.4,0.21,0,0.21C-0.4,0.21,-0.7,0.17,-1,0Z", "filled": true, "size": 480, "stroke": "#1a1a1a", "strokeWidth": 0.5, "opacity": 1, "clip": true},
    "encoding": {
     "x": {"field": "m", "type": "quantitative"},
     "y": {"field": "t", "type": "nominal"},
     "color": {"field": "c", "type": "nominal", "scale": {"domain": ["1","2","3","4","5"], "range": ["#F8766D","#A3A500","#00BF7D","#00B0F6","#E76BF3"]},
       "legend": {"title": "GlobalRgClusters", "orient": "none", "legendX": 251, "legendY": 978, "direction": "horizontal", "titleOrient": "left", "titleFontSize": 9.5, "titleFontWeight": "normal", "titleColor": "black", "titlePadding": 6, "labelFontSize": 8.5, "labelColor": "#1a1a1a", "symbolType": "square", "symbolSize": 150, "symbolStrokeColor": "#333333", "symbolStrokeWidth": 0.8, "symbolOpacity": 1, "labelOffset": 5, "columnPadding": 9}}
    }},
   {"transform": [{"fold": ["lo","m","hi"], "as": ["k","v"]}],
    "mark": {"type": "trail", "clip": true},
    "encoding": {
     "x": {"field": "v", "type": "quantitative"},
     "y": {"field": "t", "type": "nominal"},
     "detail": {"field": "t"},
     "fill": {"field": "c", "type": "nominal", "scale": {"domain": ["1","2","3","4","5"], "range": ["#F8766D","#A3A500","#00BF7D","#00B0F6","#E76BF3"]}, "legend": null},
     "size": {"condition": {"test": "datum.k === 'm'", "value": 4}, "value": 0}
    }},
   {"transform": [{"filter": "datum.t === 'Schizophrenia'"}],
    "mark": {"type": "rule", "color": "#1a1a1a", "strokeWidth": 0.7},
    "encoding": {"x": {"datum": 0}}},
   {"mark": {"type": "tick", "color": "#FF0000", "thickness": 1.2, "size": 8, "opacity": 1},
    "encoding": {"x": {"field": "m", "type": "quantitative"}, "y": {"field": "t", "type": "nominal"}}}
  ]
 }
}
]
},
{
"spacing": 0,
"hconcat": [
{"data": {"values": [{}]}, "width": 24.5, "height": 409,
 "view": {"fill": null, "stroke": null},
 "layer": [
  {"mark": {"type": "text", "text": "b", "fontSize": 26, "align": "left", "baseline": "top", "dy": -18, "dx": -3, "color": "black"},
   "encoding": {"x": {"datum": 0, "type": "quantitative", "scale": {"domain": [0, 1]}, "axis": null},
                "y": {"datum": 1, "type": "quantitative", "scale": {"domain": [0, 1]}, "axis": null}}},
  {"mark": {"type": "text", "text": "Psychopathology Traits", "angle": 270, "fontSize": 10, "fontWeight": "bold", "dy": 6, "dx": -8, "color": "black"}}
 ]},
{
 "data": {"name": "ncf"},
 "transform": [{"lookup": "t", "from": {"data": {"name": "cl"}, "key": "t", "fields": ["c"]}}],
 "facet": {"field": "p", "type": "nominal", "title": null,
  "sort": ["NCF-1","NCF-2","NCF-3","NCF-4","NCF-5","NCF-6","NCF-7","NCF-8","NCF-9","NCF-10"],
  "header": {"labelFontSize": 9, "labelFontWeight": "normal", "labelAnchor": "start", "labelPadding": 3, "labelColor": "#1a1a1a"}},
 "columns": 5,
 "spacing": {"row": 5, "column": 9},
 "resolve": {"axis": {"x": "independent", "y": "independent"}},
 "spec": {
  "width": 88, "height": 186,
  "layer": [
   {"transform": [{"filter": "datum.t === 'Schizophrenia'"}], "mark": {"type": "rule", "color": "white", "strokeWidth": 0.45}, "encoding": {"x": {"datum": -3.75}}},
   {"transform": [{"filter": "datum.t === 'Schizophrenia'"}], "mark": {"type": "rule", "color": "white", "strokeWidth": 0.45}, "encoding": {"x": {"datum": -1.25}}},
   {"transform": [{"filter": "datum.t === 'Schizophrenia'"}], "mark": {"type": "rule", "color": "white", "strokeWidth": 0.45}, "encoding": {"x": {"datum": 1.25}}},
   {"transform": [{"filter": "datum.t === 'Schizophrenia'"}], "mark": {"type": "rule", "color": "white", "strokeWidth": 0.45}, "encoding": {"x": {"datum": 3.75}}},
   {"transform": [{"fold": ["lo","m","hi"], "as": ["k","v"]}],
    "mark": {"type": "trail", "color": "#1a1a1a", "clip": true},
    "encoding": {
     "x": {"field": "v", "type": "quantitative", "scale": {"domain": [-4.9, 4.75], "nice": false, "zero": false},
       "axis": {"title": null, "values": [-2.5, 0, 2.5], "format": ".1f", "labelFontSize": 6.5, "labelPadding": 1, "gridWidth": 0.9}},
     "y": {"field": "t", "type": "nominal", "scale": {"type": "point", "padding": 0.6, "domain": ["Schizophrenia","Bipolar","Anorexia","Tourette","MDD","Worry","Neuroticism","DepAff","Insomnia","MDD_MVP","Anxiety_GT","ADHD","PTSD_MVP","PTSD_PCL","Anxiety_MVP","ASD","OCD"]},
       "axis": {"title": null, "labelFontSize": 5.5, "labelPadding": 1, "labelOverlap": false, "labelBound": false, "gridWidth": 0.9}},
     "detail": {"field": "t"},
     "size": {"condition": {"test": "datum.k === 'm'", "value": 6}, "value": 1.1}
    }},
   {"mark": {"type": "point", "shape": "M-1,0C-0.7,-0.2,-0.4,-0.25,0,-0.25C0.4,-0.25,0.7,-0.2,1,0C0.7,0.2,0.4,0.25,0,0.25C-0.4,0.25,-0.7,0.2,-1,0Z", "filled": true, "size": 480, "stroke": "#1a1a1a", "strokeWidth": 0.5, "opacity": 1, "clip": true},
    "encoding": {
     "x": {"field": "m", "type": "quantitative"},
     "y": {"field": "t", "type": "nominal"},
     "color": {"field": "c", "type": "nominal", "scale": {"domain": ["1","2","3","4","5"], "range": ["#F8766D","#A3A500","#00BF7D","#00B0F6","#E76BF3"]},
       "legend": {"title": "GlobalRgClusters", "orient": "none", "legendX": 251, "legendY": 978, "direction": "horizontal", "titleOrient": "left", "titleFontSize": 9.5, "titleFontWeight": "normal", "titleColor": "black", "titlePadding": 6, "labelFontSize": 8.5, "labelColor": "#1a1a1a", "symbolType": "square", "symbolSize": 150, "symbolStrokeColor": "#333333", "symbolStrokeWidth": 0.8, "symbolOpacity": 1, "labelOffset": 5, "columnPadding": 9}}
    }},
   {"transform": [{"fold": ["lo","m","hi"], "as": ["k","v"]}],
    "mark": {"type": "trail", "clip": true},
    "encoding": {
     "x": {"field": "v", "type": "quantitative"},
     "y": {"field": "t", "type": "nominal"},
     "detail": {"field": "t"},
     "fill": {"field": "c", "type": "nominal", "scale": {"domain": ["1","2","3","4","5"], "range": ["#F8766D","#A3A500","#00BF7D","#00B0F6","#E76BF3"]}, "legend": null},
     "size": {"condition": {"test": "datum.k === 'm'", "value": 4.5}, "value": 0}
    }},
   {"transform": [{"filter": "datum.t === 'Schizophrenia'"}],
    "mark": {"type": "rule", "color": "#1a1a1a", "strokeWidth": 0.7},
    "encoding": {"x": {"datum": 0}}},
   {"mark": {"type": "tick", "color": "#FF0000", "thickness": 1.2, "size": 9.5, "opacity": 1},
    "encoding": {"x": {"field": "m", "type": "quantitative"}, "y": {"field": "t", "type": "nominal"}}}
  ]
 }
}
]
}
]
},
{
"spacing": 10,
"vconcat": [
{"data": {"values": [{}]}, "width": 34, "height": 540,
 "view": {"fill": "#F8868A", "stroke": null, "cornerRadius": 8},
 "mark": {"type": "text", "text": "Cognitive Task Performance", "angle": 270, "fontSize": 20, "color": "black"}},
{"data": {"values": [{}]}, "width": 34, "height": 439,
 "view": {"fill": "#5DE0EA", "stroke": null, "cornerRadius": 8},
 "mark": {"type": "text", "text": "Non-Cognitive Factor", "angle": 270, "fontSize": 20, "color": "black"}}
]
}
],
"config": {
 "font": "Liberation Sans",
 "view": {"fill": "#EBEBEB", "stroke": null},
 "axis": {"domain": false, "labelColor": "#4d4d4d", "tickColor": "#333333", "tickSize": 2, "tickWidth": 0.6, "gridColor": "#FFFFFF", "labelFont": "Liberation Sans"},
 "header": {"labelFont": "Liberation Sans"},
 "title": {"font": "Liberation Sans"}
}
}
